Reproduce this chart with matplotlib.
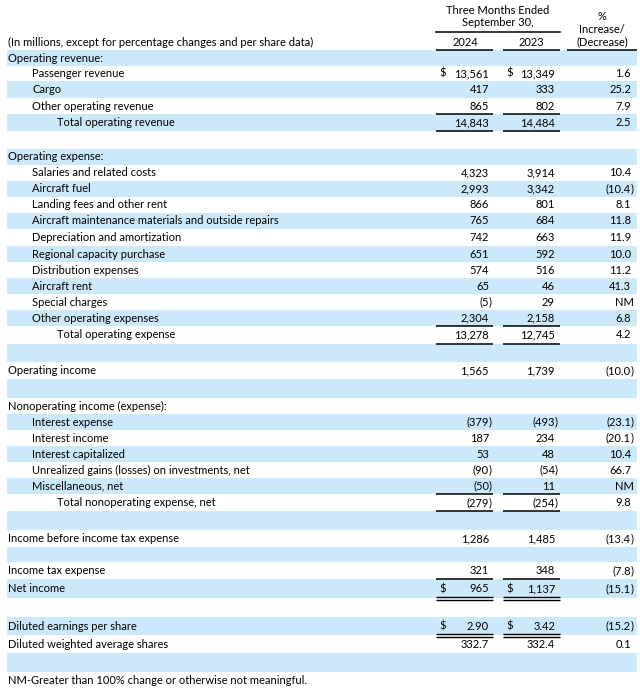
import matplotlib
matplotlib.use("Agg")
import matplotlib.pyplot as plt

plt.rcParams['font.family'] = ['Lato', 'DejaVu Sans']

# table content
labels = [
    "Operating revenue:", "Passenger revenue", "Cargo", "Other operating revenue",
    "Total operating revenue", "",
    "Operating expense:", "Salaries and related costs", "Aircraft fuel",
    "Landing fees and other rent", "Aircraft maintenance materials and outside repairs",
    "Depreciation and amortization", "Regional capacity purchase", "Distribution expenses",
    "Aircraft rent", "Special charges", "Other operating expenses", "Total operating expense", "",
    "Operating income", "",
    "Nonoperating income (expense):", "Interest expense", "Interest income",
    "Interest capitalized", "Unrealized gains (losses) on investments, net",
    "Miscellaneous, net", "Total nonoperating expense, net", "",
    "Income before income tax expense", "",
    "Income tax expense", "Net income", "",
    "Diluted earnings per share", "Diluted weighted average shares", "",
    "NM-Greater than 100% change or otherwise not meaningful.",
]
indent = [0, 1, 1, 1, 2, 0,
          0, 1, 1, 1, 1, 1, 1, 1, 1, 1, 1, 2, 0,
          0, 0,
          0, 1, 1, 1, 1, 1, 2, 0,
          0, 0,
          0, 0, 0,
          0, 0, 0,
          0]
v2024 = [None, 13561, 417, 865, 14843, None,
         None, 4323, 2993, 866, 765, 742, 651, 574, 65, -5, 2304, 13278, None,
         1565, None,
         None, -379, 187, 53, -90, -50, -279, None,
         1286, None,
         321, 965, None,
         2.90, 332.7, None,
         None]
v2023 = [None, 13349, 333, 802, 14484, None,
         None, 3914, 3342, 801, 684, 663, 592, 516, 46, 29, 2158, 12745, None,
         1739, None,
         None, -493, 234, 48, -54, 11, -254, None,
         1485, None,
         348, 1137, None,
         3.42, 332.4, None,
         None]
pct_change = [None, 1.6, 25.2, 7.9, 2.5, None,
              None, 10.4, -10.4, 8.1, 11.8, 11.9, 10.0, 11.2, 41.3, "NM", 6.8, 4.2, None,
              -10.0, None,
              None, -23.1, -20.1, 10.4, 66.7, "NM", 9.8, None,
              -13.4, None,
              -7.8, -15.1, None,
              -15.2, 0.1, None,
              None]
decimals = [0] * 34 + [2, 1, 0, 0]
dollar_rows = [1, 32, 34]
single_under = [3, 4, 16, 17, 26, 27, 31]
double_under = [32, 34]

# layout (pixels)
bounds = [50, 66, 81, 98, 114, 131, 149, 165, 181, 197, 213, 229, 246, 262, 278, 294,
          310, 326, 344, 362, 379, 398, 414, 430, 446, 462, 478, 494, 511, 530, 547,
          562, 579, 598, 617, 635, 653, 672, 688]
W, H = 640, 699
blue = "#cce9fb"
ink = "#000000"
fs = 8.0
col_right = [489, 555, 631]
col_span = [(436, 493), (503, 560)]
dollar_x = [439, 506]

fig = plt.figure(figsize=(W / 100, H / 100), dpi=100)
ax = fig.add_axes([0, 0, 1, 1])
ax.set_xlim(0, W)
ax.set_ylim(H, 0)
ax.axis("off")


def put_num(x, y, val, nd):
    if val is None:
        return
    if isinstance(val, str):
        ax.text(x + 3, y, val, ha="right", va="center", fontsize=fs, color=ink)
        return
    s = f"{abs(val):,.{nd}f}"
    if val < 0:
        ax.text(x, y, "(" + s, ha="right", va="center", fontsize=fs, color=ink)
        ax.text(x, y, ")", ha="left", va="center", fontsize=fs, color=ink)
    else:
        ax.text(x, y, s, ha="right", va="center", fontsize=fs, color=ink)


for i, lab in enumerate(labels):
    top, bot = bounds[i], bounds[i + 1]
    yc = (top + bot) / 2
    if i % 2 == 0:
        ax.add_patch(plt.Rectangle((7, top), 630, bot - top, color=blue, lw=0))
    ax.text(8 + indent[i] * 24.5, yc, lab, ha="left", va="center", fontsize=fs, color=ink)
    put_num(col_right[0], yc, v2024[i], decimals[i])
    put_num(col_right[1], yc, v2023[i], decimals[i])
    put_num(col_right[2], yc, pct_change[i], 1)
    if i in dollar_rows:
        for dx in dollar_x:
            ax.text(dx, yc, "$", ha="left", va="center", fontsize=fs, color=ink)
    for x0, x1 in col_span:
        if i in single_under:
            ax.plot([x0, x1], [bot, bot], color=ink, lw=1.1, solid_capstyle="butt")
        if i in double_under:
            ax.plot([x0, x1], [bot - 1, bot - 1], color=ink, lw=1.0, solid_capstyle="butt")
            ax.plot([x0, x1], [bot + 1.5, bot + 1.5], color=ink, lw=1.0, solid_capstyle="butt")

# header
ax.text(498, 10, "Three Months Ended", ha="center", va="center", fontsize=fs, color=ink)
ax.text(498, 23, "September 30,", ha="center", va="center", fontsize=fs, color=ink)
ax.plot([436, 560], [31.5, 31.5], color=ink, lw=1.1)
ax.text(465, 42, "2024", ha="center", va="center", fontsize=fs, color=ink)
ax.text(531, 42, "2023", ha="center", va="center", fontsize=fs, color=ink)
ax.text(602, 17, "%", ha="center", va="center", fontsize=fs, color=ink)
ax.text(602, 29.5, "Increase/", ha="center", va="center", fontsize=fs, color=ink)
ax.text(602, 42, "(Decrease)", ha="center", va="center", fontsize=fs, color=ink)
ax.text(8, 42, "(In millions, except for percentage changes and per share data)",
        ha="left", va="center", fontsize=fs, color=ink)
for x0, x1 in [(436, 493), (503, 560), (567, 637)]:
    ax.plot([x0, x1], [50, 50], color=ink, lw=1.1, solid_capstyle="butt")

fig.savefig("out.png", dpi=100)
